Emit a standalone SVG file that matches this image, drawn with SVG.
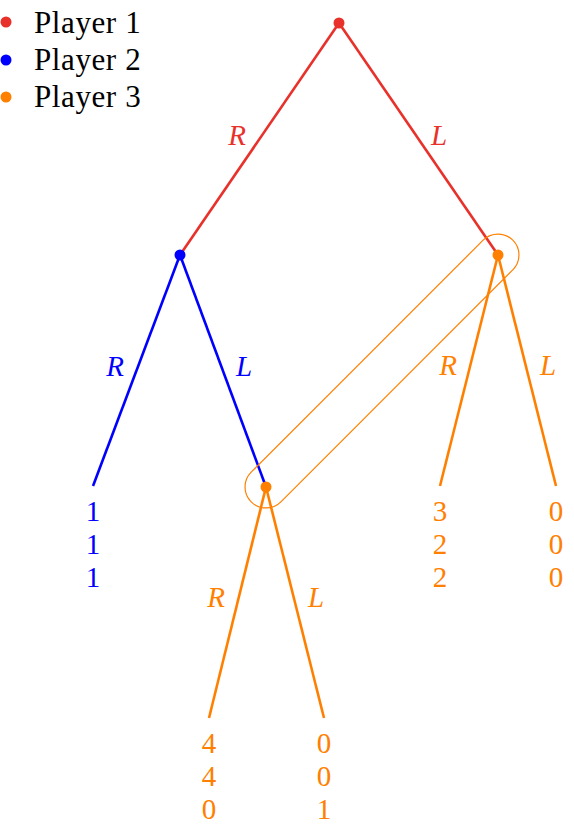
<svg xmlns="http://www.w3.org/2000/svg" width="574" height="840" viewBox="0 0 574 840">
<style>
text{font-family:"Liberation Serif","DejaVu Serif",serif;font-size:29px;text-anchor:middle}
.lab{font-style:italic}
.leg{text-anchor:start;font-size:31px;letter-spacing:0.6px}
.e{stroke-width:2.6;fill:none;stroke-linecap:butt}
.p1{fill:#e8312a}.p2{fill:#0000ff}.p3{fill:#ff8000}
.s1{stroke:#e8312a}.s2{stroke:#0000ff}.s3{stroke:#ff8000}
</style>
<rect width="574" height="840" fill="#fff"/>
<g id="legend">
<circle cx="6" cy="22" r="5.5" class="p1"/>
<circle cx="6" cy="60" r="5.5" class="p2"/>
<circle cx="6" cy="97" r="5.5" class="p3"/>
<text x="34" y="33" class="leg">Player 1</text>
<text x="34" y="70" class="leg">Player 2</text>
<text x="34" y="107" class="leg">Player 3</text>
</g>
<g id="connectors">
<line x1="339" y1="23" x2="180" y2="255" class="e s1"/>
<line x1="339" y1="23" x2="498" y2="255" class="e s1"/>
<line x1="180" y1="255" x2="93" y2="486" class="e s2"/>
<line x1="180" y1="255" x2="266" y2="487" class="e s2"/>
<line x1="498" y1="255" x2="440" y2="486" class="e s3"/>
<line x1="498" y1="255" x2="556" y2="486" class="e s3"/>
<line x1="266" y1="487" x2="209" y2="718" class="e s3"/>
<line x1="266" y1="487" x2="324" y2="718" class="e s3"/>
<text x="237" y="145" class="lab p1">R</text>
<text x="439" y="145" class="lab p1">L</text>
<text x="115" y="376" class="lab p2">R</text>
<text x="244" y="376" class="lab p2">L</text>
<text x="448" y="375" class="lab p3">R</text>
<text x="548" y="375" class="lab p3">L</text>
<text x="216" y="607" class="lab p3">R</text>
<text x="316" y="607" class="lab p3">L</text>
</g>
<g id="infoset">
<rect x="197" y="350" width="370" height="42" rx="21" ry="21" transform="rotate(-45 382 371)" fill="none" stroke="#ff8000" stroke-width="1.2"/>
</g>
<g id="n-root"><circle cx="339" cy="23" r="5.5" class="p1"/></g>
<g id="n-p2"><circle cx="180" cy="255" r="5.5" class="p2"/></g>
<g id="n-p3a"><circle cx="498" cy="255" r="5.5" class="p3"/></g>
<g id="n-p3b"><circle cx="266" cy="487" r="5.5" class="p3"/></g>
<g id="leaf1" class="p2">
<text x="93" y="521">1</text><text x="93" y="554">1</text><text x="93" y="587">1</text>
</g>
<g id="leaf2" class="p3">
<text x="440" y="521">3</text><text x="440" y="554">2</text><text x="440" y="587">2</text>
</g>
<g id="leaf3" class="p3">
<text x="556" y="521">0</text><text x="556" y="554">0</text><text x="556" y="587">0</text>
</g>
<g id="leaf4" class="p3">
<text x="209" y="753">4</text><text x="209" y="786">4</text><text x="209" y="819">0</text>
</g>
<g id="leaf5" class="p3">
<text x="324" y="753">0</text><text x="324" y="786">0</text><text x="324" y="819">1</text>
</g>
</svg>
